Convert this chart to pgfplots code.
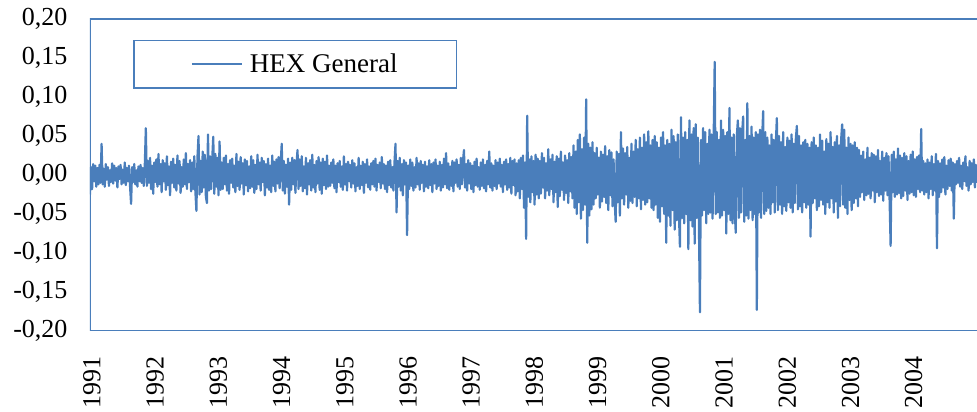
\documentclass[border=0pt]{standalone}
\usepackage{fontspec}
\setmainfont{Liberation Serif}
\usepackage{pgfplots}
\pgfplotsset{compat=1.18}
\usepackage{pgfplotstable}
\definecolor{hexblue}{RGB}{74,126,187}
\pgfplotstableread{
y
-0.025
0.010
-0.018
0.014
-0.008
0.012
-0.015
0.009
-0.012
0.013
-0.010
0.040
-0.012
0.008
-0.015
0.014
-0.006
0.010
-0.014
0.006
-0.009
0.015
-0.011
0.012
-0.007
0.009
-0.016
0.011
-0.005
0.013
-0.012
0.007
-0.010
0.016
-0.013
0.009
-0.008
0.012
-0.014
-0.037
0.010
-0.009
0.014
-0.012
0.006
-0.015
0.011
-0.008
0.013
-0.010
0.009
-0.014
0.012
0.060
-0.014
0.018
-0.010
0.022
-0.018
0.012
-0.024
0.016
-0.009
0.020
-0.015
0.027
-0.012
0.014
-0.022
0.019
-0.008
0.015
-0.019
0.024
-0.013
0.011
-0.026
0.017
-0.010
0.021
-0.016
0.013
-0.020
0.025
-0.011
0.018
-0.023
0.010
-0.015
0.020
-0.012
0.028
-0.018
0.014
-0.009
0.019
-0.021
0.016
-0.018
0.024
-0.020
-0.046
0.022
0.050
-0.025
0.018
-0.022
0.030
-0.016
0.026
-0.028
-0.036
0.052
-0.020
0.024
-0.018
0.020
0.049
-0.024
0.027
-0.015
0.022
-0.026
0.043
-0.019
0.016
-0.018
0.022
-0.012
0.025
-0.020
0.014
-0.024
0.019
-0.010
0.021
-0.016
0.012
-0.022
0.027
-0.014
0.017
-0.019
0.023
-0.011
0.015
-0.025
0.020
-0.013
0.018
-0.021
0.011
-0.017
0.024
-0.015
0.019
-0.023
0.013
-0.018
0.026
-0.012
0.016
-0.020
0.022
-0.009
0.018
-0.026
0.014
-0.016
0.021
-0.019
0.012
-0.022
0.025
-0.014
0.017
-0.021
0.020
-0.011
0.023
-0.017
0.015
0.040
-0.020
0.018
-0.024
0.013
-0.015
0.021
-0.038
0.016
-0.019
0.022
-0.012
0.019
-0.023
0.014
0.032
-0.018
0.020
-0.014
0.024
-0.021
0.011
-0.017
0.022
-0.025
0.015
-0.012
0.019
-0.020
0.026
-0.016
0.013
-0.022
0.018
-0.011
0.023
-0.019
0.016
-0.024
0.021
-0.013
0.017
-0.018
0.025
-0.015
0.012
-0.014
0.016
-0.010
0.020
-0.017
0.012
-0.022
0.015
-0.009
0.018
-0.015
0.011
-0.019
0.024
-0.012
0.014
-0.020
0.017
-0.008
0.013
-0.016
0.019
-0.011
0.015
-0.021
0.010
-0.014
0.022
-0.018
0.012
-0.013
0.017
-0.023
0.014
-0.010
0.020
-0.016
0.011
-0.019
0.015
-0.012
0.018
-0.015
0.021
-0.020
0.013
-0.009
0.016
-0.017
0.023
-0.011
0.014
-0.018
0.012
-0.022
0.017
-0.013
0.019
-0.016
0.010
-0.020
0.015
0.040
-0.048
0.018
-0.015
0.022
-0.020
0.014
-0.026
0.019
-0.012
0.016
-0.077
0.012
-0.018
0.020
-0.014
0.016
-0.020
0.010
-0.016
0.022
-0.012
0.015
-0.019
0.018
-0.010
0.013
-0.021
0.017
-0.015
0.011
-0.017
0.019
-0.013
0.014
-0.022
0.016
-0.011
0.020
-0.018
0.012
-0.014
0.017
-0.020
0.013
-0.016
0.021
-0.012
0.028
-0.017
0.015
-0.019
0.011
-0.014
0.018
-0.021
0.016
-0.010
0.020
-0.015
0.013
-0.018
0.022
-0.012
0.017
0.032
-0.016
0.014
-0.020
0.019
-0.011
0.015
-0.018
0.012
-0.022
0.017
-0.013
0.021
-0.015
0.010
-0.019
0.016
-0.014
0.020
-0.017
0.013
-0.021
0.018
-0.012
0.030
-0.016
0.015
-0.020
0.012
-0.014
0.019
-0.018
0.016
-0.011
0.021
-0.015
0.013
-0.022
0.017
-0.012
0.020
-0.019
0.014
-0.016
0.022
-0.024
0.018
-0.013
0.020
-0.026
0.015
-0.021
0.019
-0.030
0.022
-0.018
0.025
-0.042
0.016
-0.082
0.076
-0.028
0.020
-0.035
0.024
-0.022
0.018
-0.038
0.026
-0.025
0.021
-0.030
0.018
-0.024
0.028
-0.016
0.022
-0.030
0.015
-0.020
0.033
-0.026
0.020
-0.018
0.026
-0.035
0.017
-0.022
0.024
-0.041
0.021
-0.027
0.030
-0.019
0.016
-0.032
0.025
-0.023
0.019
-0.036
0.028
-0.021
0.023
-0.030
0.038
-0.042
0.030
-0.050
0.045
-0.035
0.052
-0.056
0.033
-0.045
0.048
-0.038
0.097
-0.087
0.040
-0.052
0.035
-0.044
0.042
-0.038
0.028
-0.030
0.035
-0.025
0.022
-0.042
0.030
-0.034
0.026
-0.028
0.037
-0.036
0.024
-0.045
0.032
-0.026
0.029
-0.040
0.020
-0.033
-0.060
0.030
-0.035
0.027
-0.052
0.055
-0.030
0.034
-0.038
0.028
-0.025
0.036
-0.042
0.022
-0.033
0.040
-0.036
0.030
-0.028
0.045
-0.040
0.033
-0.030
0.048
-0.044
0.035
-0.032
0.052
-0.038
0.042
-0.035
0.056
-0.030
0.038
-0.042
0.045
-0.045
0.050
-0.038
0.042
-0.055
0.035
-0.060
0.048
-0.040
0.055
-0.050
0.038
-0.087
0.045
-0.052
0.040
-0.065
0.058
-0.045
0.050
-0.070
0.042
-0.058
0.052
-0.048
-0.092
0.074
-0.055
0.048
-0.062
0.055
-0.050
0.045
-0.095
0.070
-0.058
0.052
-0.066
0.060
-0.088
0.065
-0.055
0.048
-0.060
-0.176
0.045
-0.052
0.060
-0.045
0.055
-0.062
0.040
-0.050
0.058
-0.048
0.052
-0.056
0.046
0.145
-0.050
0.055
-0.048
0.045
-0.055
0.070
-0.052
0.058
-0.045
0.050
-0.075
0.055
-0.050
0.086
-0.058
0.048
-0.062
0.052
-0.046
-0.074
0.050
0.070
-0.055
0.060
-0.048
0.052
0.075
-0.060
0.045
-0.052
0.092
-0.056
0.050
-0.045
0.062
-0.058
0.048
-0.050
0.055
-0.173
0.052
-0.048
0.058
-0.055
0.045
0.082
-0.050
0.055
-0.046
0.048
-0.042
0.038
-0.050
0.052
-0.035
0.045
-0.048
0.040
0.073
-0.045
0.050
-0.038
0.042
-0.050
0.055
-0.040
0.036
-0.046
0.048
-0.035
0.044
-0.042
0.052
-0.048
0.040
-0.036
0.046
0.063
-0.044
0.050
-0.040
0.038
-0.048
0.042
-0.035
0.045
-0.042
0.040
-0.038
0.035
-0.079
0.042
-0.036
0.048
-0.030
0.038
-0.045
0.035
-0.040
0.052
-0.032
0.044
-0.038
0.030
-0.050
0.046
-0.035
0.040
-0.042
0.055
-0.030
0.036
-0.048
0.042
-0.034
0.050
-0.055
0.038
-0.040
0.045
0.065
-0.038
0.058
-0.042
0.035
-0.050
0.048
-0.032
0.040
-0.045
0.038
-0.036
0.042
-0.030
0.035
-0.040
0.032
-0.028
0.025
-0.022
0.030
-0.032
0.020
-0.026
0.035
-0.024
0.022
-0.030
0.028
-0.020
0.026
-0.035
0.024
-0.022
0.032
-0.027
0.018
-0.025
0.030
-0.033
0.022
-0.020
0.028
-0.026
0.024
-0.030
-0.091
0.026
-0.022
0.030
-0.028
0.020
-0.025
0.034
-0.023
0.025
-0.030
0.022
-0.027
0.028
-0.020
0.024
-0.032
0.018
-0.024
0.026
-0.022
0.030
-0.026
0.020
-0.028
0.023
-0.018
0.025
-0.022
0.059
-0.020
0.018
-0.025
0.015
-0.022
0.020
-0.030
0.016
-0.018
0.024
-0.026
0.014
-0.020
0.027
-0.094
0.018
-0.028
0.015
-0.022
0.020
-0.016
0.023
-0.025
0.012
-0.018
0.019
-0.014
0.021
-0.020
0.016
-0.056
0.014
-0.012
0.018
-0.010
0.022
-0.015
0.012
-0.018
0.016
-0.008
0.024
-0.014
0.010
-0.020
0.018
-0.012
0.015
-0.009
0.020
-0.016
0.013
-0.010
}\hexdata

\begin{document}
\begin{tikzpicture}
\begin{axis}[
  scale only axis,
  width=887pt, height=312pt,
  xmin=0, xmax=842,
  ymin=-0.2, ymax=0.2,
  axis line style={draw=none},
  major tick length=0pt,
  xtick={0,60,120,180,240,300,360,420,480,540,600,660,720,780},
  xticklabels={\textrm{1991},\textrm{1992},\textrm{1993},\textrm{1994},\textrm{1995},\textrm{1996},\textrm{1997},\textrm{1998},\textrm{1999},\textrm{2000},\textrm{2001},\textrm{2002},\textrm{2003},\textrm{2004}},
  ytick={-0.2,-0.15,-0.1,-0.05,0,0.05,0.1,0.15,0.2},
  tick label style={font=\fontsize{26}{31}\selectfont},
  yticklabel style={/pgf/number format/.cd, fixed, fixed zerofill, precision=2, use comma, assume math mode=true, /tikz/.cd, xshift=-19pt},
  xticklabel style={yshift=-22pt, xshift=2pt, rotate=90, anchor=east},
  legend style={draw=hexblue, line width=1.5pt, at={(0.0485,0.9327)}, anchor=north west,
    inner xsep=57pt, inner ysep=11.5pt, font=\fontsize{27}{32}\selectfont,
    /tikz/every odd column/.append style={column sep=5pt}},
  legend image code/.code={\draw[#1] (0pt,0pt) -- (50pt,0pt);},
]
\addplot[hexblue, line width=2.2pt, line join=round] table[x expr=\coordindex, y=y] {\hexdata};
\addlegendentry{HEX General}
\draw[hexblue, line width=1.5pt] (rel axis cs:1,1) -- (rel axis cs:0,1) -- (rel axis cs:0,0) -- (rel axis cs:1,0);
\coordinate (sw) at (rel axis cs:0,0);
\coordinate (ne) at (rel axis cs:1,1);
\end{axis}
\pgfresetboundingbox
\path[use as bounding box] ([xshift=-90pt,yshift=-81pt]sw) rectangle ([yshift=19pt]ne);
\end{tikzpicture}
\end{document}
